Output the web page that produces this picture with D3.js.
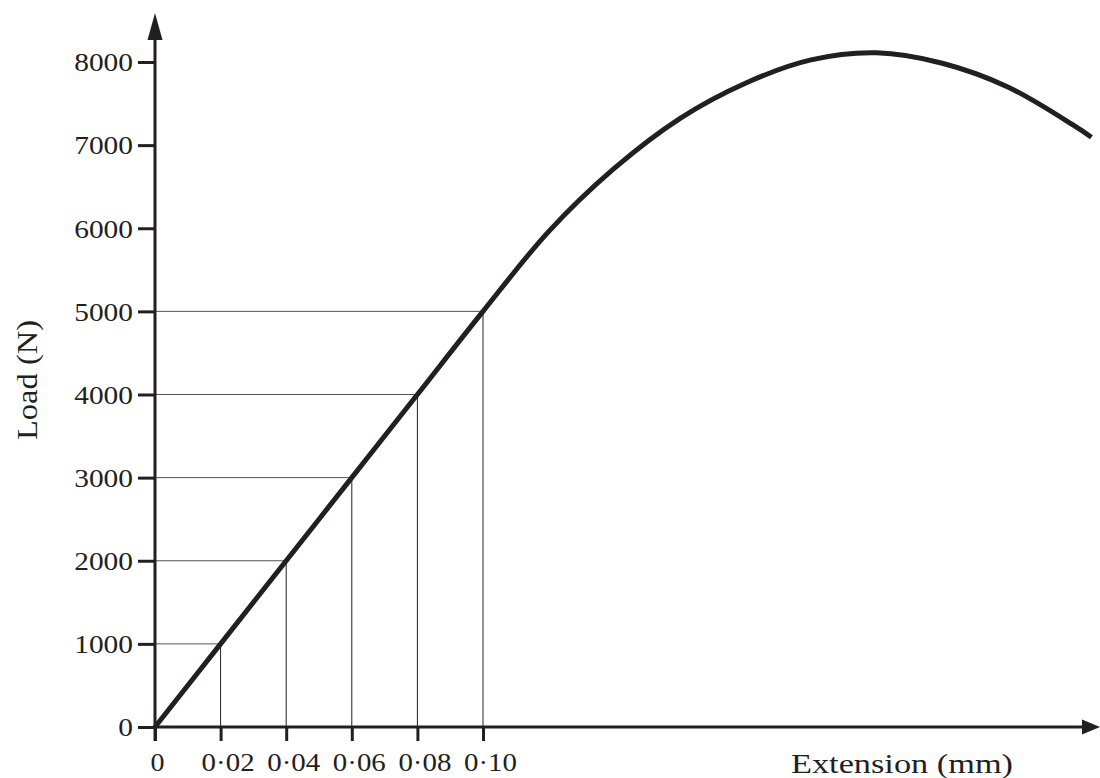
<!DOCTYPE html>
<html>
<head>
<meta charset="utf-8">
<script src="https://cdn.jsdelivr.net/npm/d3@7/dist/d3.min.js"></script>
<style>
  html, body { margin: 0; padding: 0; background: #fff; }
  svg { display: block; }
  text { font-family: "Liberation Serif", "DejaVu Serif", serif; fill: #231f20; }
</style>
</head>
<body>
<svg id="chart" width="1100" height="778"></svg>
<script>
// ---- data ----
const xTicks = [0, 0.02, 0.04, 0.06, 0.08, 0.10];
const xTickLabels = ["0", "0·02", "0·04", "0·06", "0·08", "0·10"];
const yTicks = [0, 1000, 2000, 3000, 4000, 5000, 6000, 7000, 8000];
const yTickLabels = ["0", "1000", "2000", "3000", "4000", "5000", "6000", "7000", "8000"];
const dropLoads = [1000, 2000, 3000, 4000, 5000];
const dropExt = [0.02, 0.04, 0.06, 0.08, 0.10];
const curveExt =  [0, 0.02, 0.04, 0.06, 0.08, 0.10, 0.12, 0.14, 0.16, 0.18, 0.20, 0.22, 0.24, 0.26, 0.28, 0.2855];
const curveLoad = [0, 1000, 2000, 3000, 4000, 5000, 5960, 6720, 7320, 7745, 8025, 8110, 7985, 7700, 7240, 7095];
const xTitle = "Extension (mm)";
const yTitle = "Load (N)";

// ---- drawing ----
const ink = "#231f20";
const svg = d3.select("#chart");
const x = d3.scaleLinear().domain([0, 0.10]).range([155, 483]);
const y = d3.scaleLinear().domain([0, 8000]).range([727, 62]);
const x0 = x(0), y0 = y(0);

// drop lines
const drops = dropLoads.map((l, i) => ({ e: dropExt[i], l }));
svg.append("g").selectAll("line").data(drops).join("line")
  .attr("x1", x0).attr("x2", d => x(d.e))
  .attr("y1", d => y(d.l)).attr("y2", d => y(d.l))
  .attr("stroke", "#555").attr("stroke-width", 1);
svg.append("g").selectAll("line").data(drops).join("line")
  .attr("x1", d => x(d.e)).attr("x2", d => x(d.e))
  .attr("y1", y0).attr("y2", d => y(d.l))
  .attr("stroke", "#222").attr("stroke-width", 1);

// axes lines + arrowheads
const xEnd = 1100, yEnd = 13;
svg.append("line").attr("x1", x0).attr("x2", xEnd - 16).attr("y1", y0).attr("y2", y0)
  .attr("stroke", ink).attr("stroke-width", 3);
svg.append("line").attr("x1", x0).attr("x2", x0).attr("y1", y0 + 14).attr("y2", yEnd + 25)
  .attr("stroke", ink).attr("stroke-width", 3);
svg.append("path").attr("d", `M${xEnd},${y0} L${xEnd - 18},${y0 - 7.5} L${xEnd - 18},${y0 + 7.5} Z`).attr("fill", ink);
svg.append("path").attr("d", `M${x0},${yEnd} L${x0 - 7.5},${yEnd + 27} L${x0 + 7.5},${yEnd + 27} Z`).attr("fill", ink);

// y ticks
const yAxis = d3.axisLeft(y).tickValues(yTicks).tickSize(17).tickPadding(5)
  .tickFormat((d, i) => yTickLabels[i]);
const gy = svg.append("g").attr("transform", `translate(${x0},0)`).call(yAxis);
gy.select(".domain").remove();
gy.selectAll(".tick line").attr("stroke", ink).attr("stroke-width", 3);
gy.selectAll(".tick text").attr("font-size", 26).attr("font-family", "Liberation Serif")
  .attr("fill", ink).attr("dy", "0.34em")
  .attr("textLength", (d, i) => yTickLabels[i].length * 14.7)
  .attr("lengthAdjust", "spacingAndGlyphs");

// x ticks
const xAxis = d3.axisBottom(x).tickValues(xTicks).tickSize(14).tickPadding(12)
  .tickFormat((d, i) => xTickLabels[i]);
const gx = svg.append("g").attr("transform", `translate(0,${y0})`).call(xAxis);
gx.select(".domain").remove();
gx.selectAll(".tick line").attr("stroke", ink).attr("stroke-width", 3);
gx.selectAll(".tick text").attr("font-size", 26).attr("font-family", "Liberation Serif")
  .attr("fill", ink).attr("dx", (d, i) => i === 0 ? 2 : 7)
  .attr("textLength", (d, i) => i === 0 ? 14 : 53)
  .attr("lengthAdjust", "spacingAndGlyphs");

// curve
const pts = curveExt.map((e, i) => [e, curveLoad[i]]);
const line = d3.line().x(d => x(d[0])).y(d => y(d[1])).curve(d3.curveCatmullRom.alpha(0.5));
svg.append("path").datum(pts).attr("d", line)
  .attr("fill", "none").attr("stroke", ink).attr("stroke-width", 5)
  .attr("stroke-linejoin", "round");

// titles
svg.append("text").attr("x", 902).attr("y", 773).attr("text-anchor", "middle")
  .attr("font-size", 28).attr("textLength", 222).attr("lengthAdjust", "spacingAndGlyphs")
  .text(xTitle);
svg.append("text").attr("transform", "translate(37,380) rotate(-90)").attr("text-anchor", "middle")
  .attr("font-size", 29).attr("textLength", 120).attr("lengthAdjust", "spacingAndGlyphs")
  .text(yTitle);
</script>
</body>
</html>
